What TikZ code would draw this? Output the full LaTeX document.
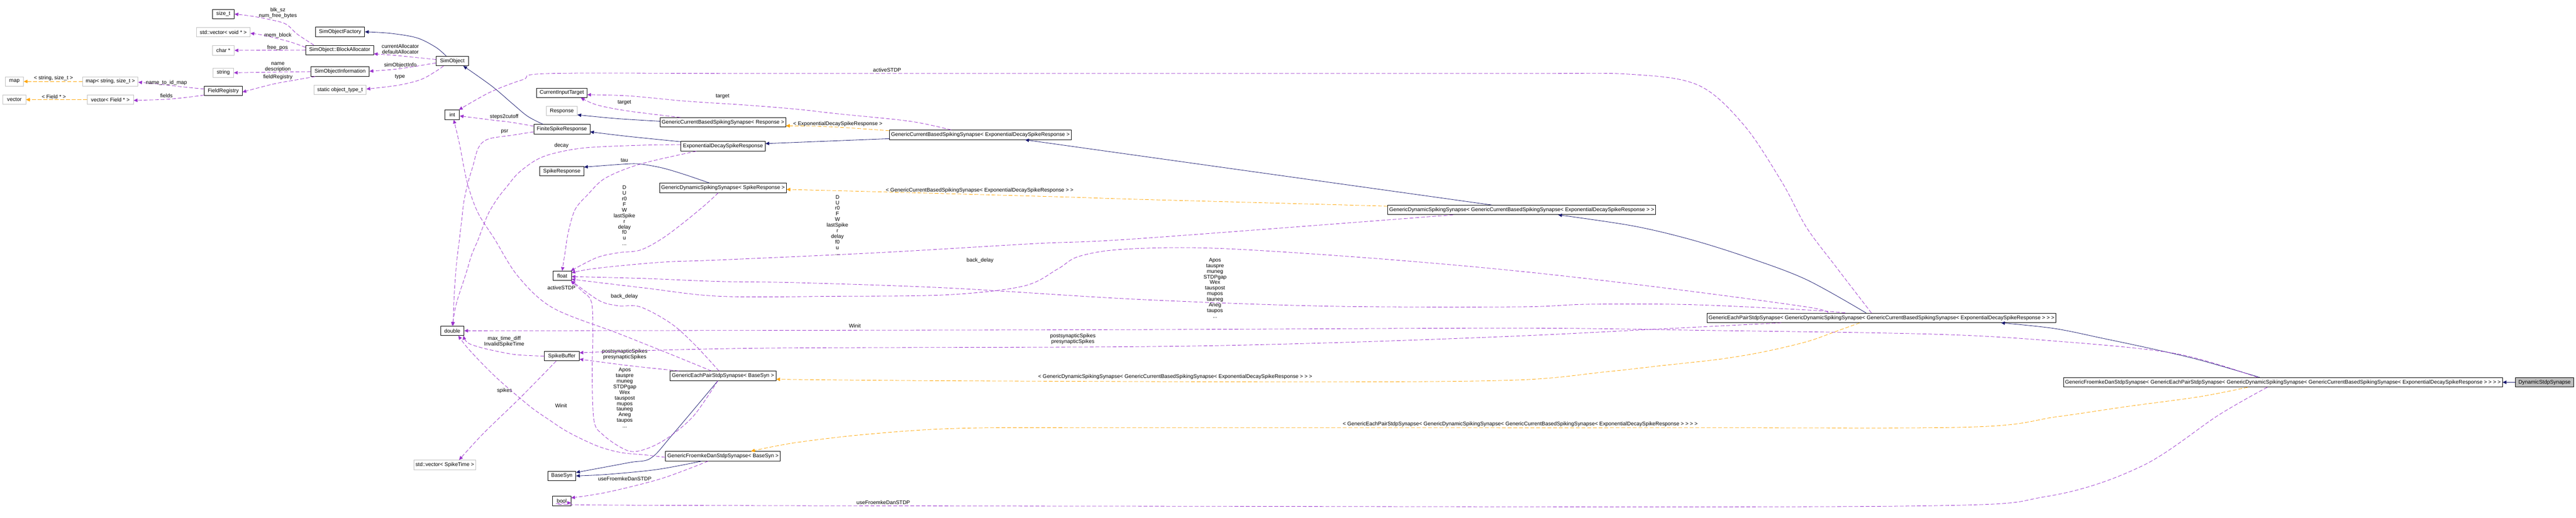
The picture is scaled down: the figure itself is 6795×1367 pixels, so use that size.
\documentclass[tikz,border=0pt]{standalone}
\usepackage{fontspec}
\setmainfont{Liberation Sans}
\usetikzlibrary{arrows.meta,calc}
\definecolor{navy}{RGB}{25,25,112}
\definecolor{purp}{RGB}{154,50,205}
\definecolor{orng}{RGB}{255,165,0}
\definecolor{gbord}{RGB}{191,191,191}
\definecolor{gfill}{RGB}{191,191,191}
\newcommand\fs{\fontsize{7}{7.4}\selectfont}
\begin{document}
\begin{tikzpicture}[x=0.5pt,y=-0.5pt,
  cls/.style={draw=black,line width=0.55pt,font=\fs,inner xsep=2pt,inner ysep=0pt,minimum height=12.5pt},
  ext/.style={cls,draw=gbord},
  cur/.style={cls,fill=gfill},
  inh/.style={draw=navy,line width=0.55pt,-{Triangle[length=5pt,width=4.5pt]}},
  use/.style={draw=purp,line width=0.55pt,dash pattern=on 5pt off 2.5pt,-{Triangle[length=5pt,width=4.5pt]}},
  tpl/.style={draw=orng,line width=0.55pt,dash pattern=on 5pt off 2.5pt,-{Triangle[length=5pt,width=4.5pt]}},
  lbl/.style={font=\fs,inner sep=0pt,align=center},
  sm/.style={smooth,tension=0.55}]
\useasboundingbox (0,0) rectangle (6795,1367);
% nodes
\node[ext,minimum width=24pt] (map) at (38,215) {map};
\node[ext,minimum width=73pt] (mapss) at (291,215) {map< string, size\_t >};
\node[ext,minimum width=30pt] (vector) at (38,263) {vector};
\node[ext,minimum width=61pt] (vecf) at (291,263) {vector< Field * >};
\node[cls,minimum width=29pt] (size) at (589,37) {size\_t};
\node[ext,minimum width=71pt] (vvoid) at (589,85) {std::vector< void * >};
\node[ext,minimum width=29pt] (char) at (589,133) {char *};
\node[ext,minimum width=27.5pt] (string) at (589,192) {string};
\node[cls,minimum width=50pt] (FR) at (589,240) {FieldRegistry};
\node[cls,minimum width=65pt] (SOF) at (897,84) {SimObjectFactory};
\node[cls,minimum width=89.5pt] (BA) at (896,132) {SimObject::BlockAllocator};
\node[cls,minimum width=77pt] (SOI) at (897,189) {SimObjectInformation};
\node[ext,minimum width=69pt] (type) at (897,237) {static object\_type\_t};
\node[cls,minimum width=42.5pt] (SO) at (1193,161) {SimObject};
\node[cls,minimum width=19pt] (int) at (1193,303) {int};
\node[cls,minimum width=31pt] (dbl) at (1193,873) {double};
\node[ext,anchor=east] (spk) at (1255,1227) {std::vector< SpikeTime >};
\node[cls,minimum width=66.5pt] (CIT) at (1482,245) {CurrentInputTarget};
\node[ext,minimum width=40.5pt] (Resp) at (1482,293) {Response};
\node[cls,minimum width=74pt] (FSR) at (1482,341) {FiniteSpikeResponse};
\node[cls,minimum width=58pt] (SR) at (1482,452) {SpikeResponse};
\node[cls,minimum width=24pt] (float) at (1483,728) {float};
\node[cls,minimum width=46pt] (SB) at (1482,940) {SpikeBuffer};
\node[cls,minimum width=37pt] (BS) at (1482,1256) {BaseSyn};
\node[cls,minimum width=24pt] (bool) at (1482,1322) {bool};
\node[cls,minimum width=164.5pt] (GCBSR) at (1907,323) {GenericCurrentBasedSpikingSynapse< Response >};
\node[cls,minimum width=111.5pt] (EDSR) at (1907,386) {ExponentialDecaySpikeResponse};
\node[cls,minimum width=167pt] (GDSR) at (1907,496) {GenericDynamicSpikingSynapse< SpikeResponse >};
\node[cls,minimum width=140pt] (GEPB) at (1907,992) {GenericEachPairStdpSynapse< BaseSyn >};
\node[cls,minimum width=151.5pt] (GFDB) at (1907,1204) {GenericFroemkeDanStdpSynapse< BaseSyn >};
\node[cls,minimum width=235.5pt] (GCBSE) at (2586,356) {GenericCurrentBasedSpikingSynapse< ExponentialDecaySpikeResponse >};
\node[cls,minimum width=345pt] (GDSE) at (4014,554) {GenericDynamicSpikingSynapse< GenericCurrentBasedSpikingSynapse< ExponentialDecaySpikeResponse > >};
\node[cls,minimum width=448pt] (GEPG) at (4963,839) {GenericEachPairStdpSynapse< GenericDynamicSpikingSynapse< GenericCurrentBasedSpikingSynapse< ExponentialDecaySpikeResponse > > >};
\node[cls,minimum width=560.5pt] (GFDG) at (6022,1009) {GenericFroemkeDanStdpSynapse< GenericEachPairStdpSynapse< GenericDynamicSpikingSynapse< GenericCurrentBasedSpikingSynapse< ExponentialDecaySpikeResponse > > > >};
\node[cur,minimum width=77pt] (DSS) at (6712,1009) {DynamicStdpSynapse};
% template edges
\draw[tpl] (mapss.west) -- (map.east);
\node[lbl] at (141,207) {< string, size\_t >};
\draw[tpl] (vecf.west) -- (vector.east);
\node[lbl] at (142,255) {< Field * >};
\draw[tpl] plot[sm] coordinates {($(GCBSE.west)+(0,-11)$) (2232,337) (2149,333) ($(GCBSR.east)+(0,9)$)};
\node[lbl] at (2210,327) {< ExponentialDecaySpikeResponse >};
\draw[tpl] plot[sm] coordinates {($(GDSE.west)+(0,-10)$) (3000,526) (2812,520) (2348,507) ($(GDSR.east)+(0,4)$)};
\node[lbl] at (2584,502) {< GenericCurrentBasedSpikingSynapse< ExponentialDecaySpikeResponse > >};
\draw[tpl] plot[sm] coordinates {($(GEPG.south west)+(403,0)$) (4842,875) (4765,902) (4650,929) (4536,948) (4383,965) (4230,982) (4000,1003) (3500,1008) (2500,1005) ($(GEPB.east)+(0,9)$)};
\node[lbl] at (3100,995) {< GenericDynamicSpikingSynapse< GenericCurrentBasedSpikingSynapse< ExponentialDecaySpikeResponse > > >};
\draw[tpl] plot[sm] coordinates {($(GFDG.south west)+(486,0)$) (5802,1047) (5610,1073) (5425,1100) (5200,1127) (4459,1129) (3000,1129) (2548,1130) (2300,1145) (2100,1168) ($(GFDB.north east)+(-78,0)$)};
\node[lbl] at (4010,1120) {< GenericEachPairStdpSynapse< GenericDynamicSpikingSynapse< GenericCurrentBasedSpikingSynapse< ExponentialDecaySpikeResponse > > > >};
% inheritance edges
\draw[inh] plot[sm] coordinates {($(SO.north west)+(27,0)$) (1150,125) (1100,100) (1030,88) (SOF.east)};
\draw[inh] plot[sm] coordinates {($(FSR.north west)+(25,0)$) (1392,307) (1351,273) (1297,227) ($(SO.south east)+(-14,0)$)};
\draw[inh] plot[sm] coordinates {($(GCBSR.west)+(0,-3)$) (1627,313) ($(Resp.south east)+(0,-3)$)};
\draw[inh] plot[sm] coordinates {($(EDSR.north west)+(0,1)$) (1657,360) ($(FSR.east)+(0,7)$)};
\draw[inh] plot[sm] coordinates {($(GDSR.north west)+(132,0)$) (1804,460) (1746,443) (1689,433) (1649,433) ($(SR.east)+(0,-11)$)};
\draw[inh] ($(GCBSE.west)+(0,10)$) -- ($(EDSR.east)+(0,-7)$);
\draw[inh] ($(GDSE.north west)+(274,0)$) -- ($(GCBSE.south west)+(358,0)$);
\draw[inh] plot[sm] coordinates {($(GEPG.north west)+(420,0)$) (4765,738) (4612,680) (4459,632) (4306,596) ($(GDSE.south west)+(450,0)$)};
\draw[inh] plot[sm] coordinates {($(GFDG.north west)+(518,0)$) (5802,950) (5674,920) (5547,893) (5419,867) ($(GEPG.south west)+(776,0)$)};
\draw[inh] (DSS.west) -- (GFDG.east);
\draw[inh] plot[sm] coordinates {($(GEPB.south west)+(127,0)$) (1774,1147) (1717,1209) (1659,1221) ($(BS.east)+(0,-9)$)};
\draw[inh] plot[sm] coordinates {($(GFDB.south west)+(96,0)$) (1734,1239) (1602,1252) (BS.east)};
% usage edges - left cluster
\draw[use] plot[sm] coordinates {($(FR.north west)+(0,8)$) (470,228) (420,222) ($(mapss.east)+(0,2)$)};
\node[lbl] at (439,218) {name\_to\_id\_map};
\draw[use] plot[sm] coordinates {($(FR.south west)+(0,-2)$) (500,256) (440,262) ($(vecf.east)+(0,2)$)};
\node[lbl] at (439,252) {fields};
\draw[use] plot[sm] coordinates {($(BA.north west)+(22,0)$) (784,90) (753,63) (704,50) (660,42) (size.east)};
\node[lbl] at (733,35) {blk\_sz\\num\_free\_bytes};
\draw[use] plot[sm] coordinates {($(BA.west)+(0,-7)$) (770,112) (733,102) (690,92) ($(vvoid.east)+(0,3)$)};
\node[lbl] at (733,93) {mem\_block};
\draw[use] (BA.west) -- (char.east);
\node[lbl] at (732,126) {free\_pos};
\draw[use] (SOI.west) -- ($(string.east)+(0,0)$);
\node[lbl] at (733,177) {name\\description};
\draw[use] plot[sm] coordinates {($(SOI.south west)+(12,0)$) (780,211) (720,222) ($(FR.east)+(0,3)$)};
\node[lbl] at (733,204) {fieldRegistry};
\draw[use] plot[sm] coordinates {($(SO.west)+(0,-4)$) (1080,150) (1040,146) ($(BA.south east)+(0,-3)$)};
\node[lbl] at (1056,130) {currentAllocator\\defaultAllocator};
\draw[use] plot[sm] coordinates {($(SO.west)+(0,5)$) (1090,176) (1040,183) ($(SOI.east)+(0,-1)$)};
\node[lbl] at (1056,172) {simObjectInfo};
\draw[use] plot[sm] coordinates {($(SO.south west)+(20,0)$) (1150,188) (1110,210) (1050,225) ($(type.east)+(0,-2)$)};
\node[lbl] at (1055,203) {type};
% usage edges - responses
\draw[use] plot[sm] coordinates {($(FSR.west)+(0,-8)$) (1350,323) (1300,317) ($(int.east)+(0,3)$)};
\node[lbl] at (1330,308) {steps2cutoff};
\draw[use] plot[sm] coordinates {($(FSR.west)+(0,7)$) (1350,357) (1288,367) (1262,390) (1247,440) (1235,480) (1224,530) (1218,580) (1210,647) (1204,697) (1198,780) ($(dbl.north)+(2,0)$)};
\node[lbl] at (1331,347) {psr};
\draw[use] plot[sm] coordinates {($(EDSR.west)+(0,-4)$) (1700,383) (1545,390) (1460,405) (1413,423) (1367,457) (1339,490) (1313,523) (1290,560) (1276,593) (1261,633) (1244,673) (1232,713) (1221,747) (1210,780) (1201,813) ($(dbl.north)+(0,0)$)};
\node[lbl] at (1481,384) {decay};
\draw[use] plot[sm] coordinates {($(EDSR.south west)+(42,0)$) (1689,433) (1597,470) (1551,513) (1517,553) (1499,613) (1491,663) (float.north)};
\node[lbl] at (1647,423) {tau};
\draw[use] plot[sm] coordinates {($(GCBSR.north west)+(54,0)$) (1657,293) (1575,277) ($(CIT.south)+(50,0)$)};
\node[lbl] at (1647,271) {target};
\draw[use] plot[sm] coordinates {($(GCBSE.north west)+(163,0)$) (2400,320) (2207,300) (2100,288) (1963,277) (1810,267) (1657,253) ($(CIT.east)+(0,5)$)};
\node[lbl] at (1906,255) {target};
\draw[use] plot[sm] coordinates {($(GDSR.south west)+(155,0)$) (1861,540) (1804,587) (1746,630) (1689,660) (1631,667) (1574,680) ($(float.north east)+(-2,0)$)};
\node[lbl] at (1647,569) {D\\U\\r0\\F\\W\\lastSpike\\r\\delay\\f0\\u\\...};
\draw[use] plot[sm] coordinates {($(GDSE.south west)+(173,0)$) (3000,630) (2729,643) (2315,667) (1900,686) (1746,692) (1574,708) ($(float.east)+(0,-8)$)};
\node[lbl] at (2209,594) {D\\U\\r0\\F\\W\\lastSpike\\r\\delay\\f0\\u\\...};
% usage edges - stdp
\draw[use] plot[sm] coordinates {($(GEPB.south west)+(127,0)$) (1831,1096) (1768,1151) (1717,1180) (1671,1192) (1636,1180) (1590,1147) (1567,1111) (1562,988) (1564,880) (1560,797) (1534,767) ($(float.south east)+(-2,0)$)};
\node[lbl] at (1648,1050) {Apos\\tauspre\\muneg\\STDPgap\\Wex\\tauspost\\mupos\\tauneg\\Aneg\\taupos\\...};
\draw[use] plot[sm] coordinates {($(GEPB.north west)+(130,0)$) (1831,908) (1769,853) (1689,810) (1631,807) (1580,793) ($(float.south east)+(0,0)$)};
\node[lbl] at (1647,782) {back\_delay};
\draw[use] plot[sm] coordinates {($(GEPB.north west)+(110,0)$) (1774,937) (1631,880) (1459,813) (1367,730) (1304,630) (1260,560) (1232,480) (1212,380) ($(int.south)+(4,0)$)};
\node[lbl] at (1481,759) {activeSTDP};
\draw[use] plot[sm] coordinates {($(GEPB.north west)+(24,0)$) (1659,965) ($(SB.east)+(0,8)$)};
\node[lbl] at (1648,935) {postsynapticSpikes\\presynapticSpikes};
\draw[use] plot[sm] coordinates {(SB.west) (1372,937) (1335,932) (1275,919) (1234,905) ($(dbl.south east)+(-2,0)$)};
\node[lbl] at (1330,902) {max\_time\_diff\\InvalidSpikeTime};
\draw[use] plot[sm] coordinates {($(SB.south)+(-15,0)$) (1372,1050) (1275,1144) ($(spk.north east)+(-44,0)$)};
\node[lbl] at (1331,1031) {spikes};
\draw[use] plot[sm] coordinates {($(GFDB.west)+(0,3)$) (1705,1201) (1636,1194) (1573,1176) (1498,1140) (1447,1107) (1401,1075) (1332,1017) (1286,974) (1234,919) ($(dbl.south)+(16,0)$)};
\node[lbl] at (1480,1071) {Winit};
\draw[use] plot[sm] coordinates {($(GFDB.south west)+(113,0)$) (1745,1263) (1602,1299) ($(bool.east)+(0,-8)$)};
\node[lbl] at (1648,1264) {useFroemkeDanSTDP};
% usage edges - right copies
\draw[use] plot[sm] coordinates {($(GEPG.north west)+(434,0)$) (4842,703) (4765,600) (4700,480) (4600,330) (4480,225) (4300,196) (4000,194) (3000,194) (2000,194) (1453,194) (1380,210) (1300,240) (1244,270) ($(int.north east)+(-2,0)$)};
\node[lbl] at (2340,185) {activeSTDP};
\draw[use] plot[sm] coordinates {($(GEPG.north west)+(319,0)$) (4765,810) (4383,759) (4000,715) (3600,680) (3200,655) (2961,658) (2845,677) (2790,710) (2700,755) (2500,778) (2200,782) (1900,782) (1700,760) ($(float.east)+(0,9)$)};
\node[lbl] at (2585,687) {back\_delay};
\draw[use] plot[sm] coordinates {($(GEPG.north west)+(365,0)$) (4765,818) (4459,804) (4191,803) (4000,810) (3500,808) (3000,790) (2500,760) (2100,746) (1900,743) (1700,735) ($(float.east)+(0,2)$)};
\node[lbl] at (3205,760) {Apos\\tauspre\\muneg\\STDPgap\\Wex\\tauspost\\mupos\\tauneg\\Aneg\\taupos\\...};
\draw[use] plot[sm] coordinates {($(GEPG.south west)+(196,0)$) (4383,868) (4000,887) (3500,905) (3000,915) (2000,919) ($(SB.east)+(0,-9)$)};
\node[lbl] at (2830,895) {postsynapticSpikes\\presynapticSpikes};
\draw[use] plot[sm] coordinates {($(GFDG.north west)+(512,0)$) (5738,933) (5419,900) (5100,882) (4500,872) (4000,866) (3000,870) (2000,872) (dbl.east)};
\node[lbl] at (2255,860) {Winit};
\draw[use] plot[sm] coordinates {($(GFDG.south west)+(538,0)$) (5853,1095) (5650,1230) (5400,1310) (5000,1336) (3000,1336) (1600,1333) ($(bool.east)+(0,5)$)};
\node[lbl] at (2330,1326) {useFroemkeDanSTDP};
\end{tikzpicture}
\end{document}
